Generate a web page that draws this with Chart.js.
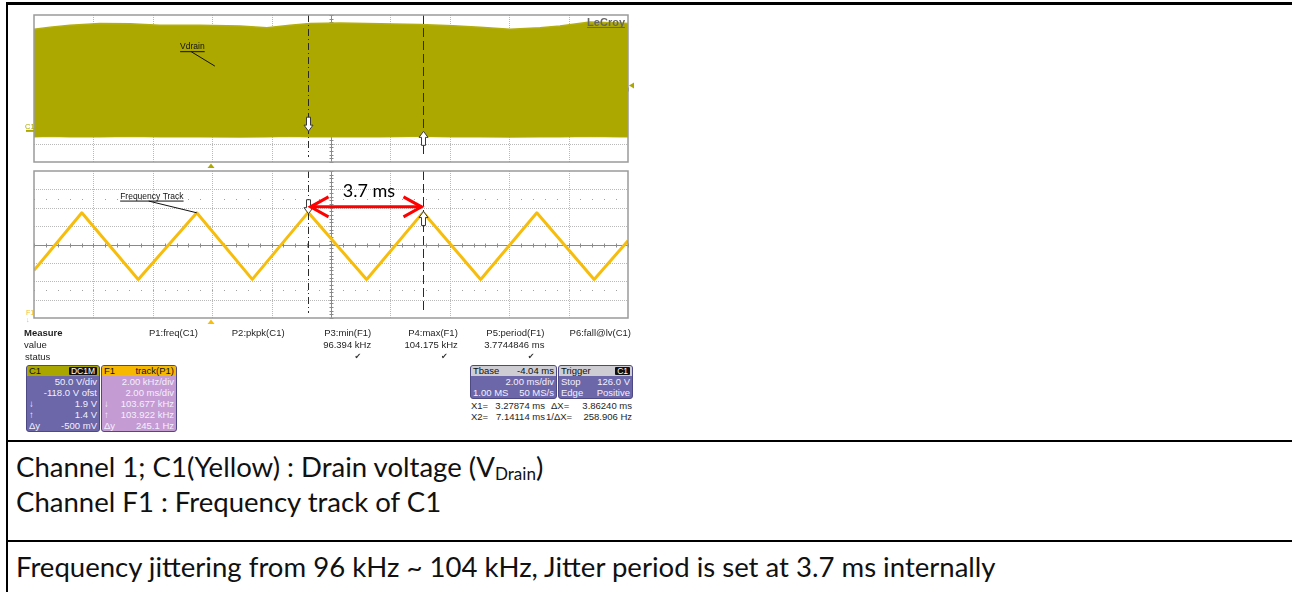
<!DOCTYPE html>
<html>
<head>
<meta charset="utf-8">
<script src="https://cdn.jsdelivr.net/npm/chart.js@4.4.0/dist/chart.umd.min.js"></script>
<style>
  body { margin: 0; background: #fff; }
  #page { position: relative; width: 1292px; height: 592px; overflow: hidden; font-family: "Liberation Sans", Arial, sans-serif; }
  .rule { position: absolute; left: 6px; right: 0; background: #000; }
  .sc { position: absolute; font-size: 9.5px; line-height: 11px; color: #1e1e1e; white-space: nowrap; }
  .box { position: absolute; border: 1px solid #4d4985; border-radius: 3px; overflow: hidden; font-size: 9.5px; color: #f3f0ff; }
  .hd, .rw { display: flex; justify-content: space-between; padding: 0 2px; white-space: nowrap; }
  .hd { height: 10px; line-height: 10px; color: #111; }
  .rw { height: 11px; line-height: 11px; }
  .badge { background: #111; color: #fff; padding: 0 2px; height: 8px; line-height: 8px; margin-top: 1px; border-radius: 1px; font-size: 8.5px; }
  .txt { position: absolute; left: 16px; color: #111; white-space: nowrap; line-height: 30px; font-family: Lato, "Noto Sans", sans-serif; }
  .txt sub { font-size: 62%; vertical-align: -0.15em; }
  canvas { position: absolute; }
</style>
</head>
<body>
<div id="page">
  <div class="rule" style="top:2px;height:3px"></div>
  <div class="rule" style="top:2px;bottom:0;width:2px;right:auto"></div>
  <div class="rule" style="top:440px;height:2px"></div>
  <div class="rule" style="top:540px;height:2px"></div>

  <canvas id="c1" width="628" height="163" style="left:16px;top:8px"></canvas>
  <canvas id="f1" width="628" height="163" style="left:16px;top:165px"></canvas>

  <div id="measure"></div>

  <div class="box" style="left:26px;top:365px;width:72px;background:#6b67a9">
    <div class="hd" style="background:#aaa600"><span>C1</span><span class="badge">DC1M</span></div>
    <div class="rw"><span></span><span>50.0 V/div</span></div>
    <div class="rw"><span></span><span>-118.0 V ofst</span></div>
    <div class="rw"><span>&darr;</span><span>1.9 V</span></div>
    <div class="rw"><span>&uarr;</span><span>1.4 V</span></div>
    <div class="rw"><span>&Delta;y</span><span>-500 mV</span></div>
  </div>
  <div class="box" style="left:101px;top:365px;width:74px;background:#c59bd3">
    <div class="hd" style="background:#f6b800"><span>F1</span><span>track(P1)</span></div>
    <div class="rw"><span></span><span>2.00 kHz/div</span></div>
    <div class="rw"><span></span><span>2.00 ms/div</span></div>
    <div class="rw"><span>&darr;</span><span>103.677 kHz</span></div>
    <div class="rw"><span>&uarr;</span><span>103.922 kHz</span></div>
    <div class="rw"><span>&Delta;y</span><span>245.1 Hz</span></div>
  </div>
  <div class="box" style="left:470px;top:365px;width:85px;background:#6b67a9">
    <div class="hd" style="background:#cdcdd3"><span>Tbase</span><span>-4.04 ms</span></div>
    <div class="rw"><span></span><span>2.00 ms/div</span></div>
    <div class="rw"><span>1.00 MS</span><span>50 MS/s</span></div>
  </div>
  <div class="box" style="left:558px;top:365px;width:73px;background:#6b67a9">
    <div class="hd" style="background:#cdcdd3"><span>Trigger</span><span class="badge">C1</span></div>
    <div class="rw"><span>Stop</span><span>126.0 V</span></div>
    <div class="rw"><span>Edge</span><span>Positive</span></div>
  </div>
  <div class="sc" style="left:471px;top:400px">X1=</div>
  <div class="sc" style="left:445px;top:400px;width:100px;text-align:right">3.27874 ms</div>
  <div class="sc" style="left:551px;top:400px">&Delta;X=</div>
  <div class="sc" style="left:532px;top:400px;width:100px;text-align:right">3.86240 ms</div>
  <div class="sc" style="left:471px;top:411px">X2=</div>
  <div class="sc" style="left:445px;top:411px;width:100px;text-align:right">7.14114 ms</div>
  <div class="sc" style="left:546px;top:411px">1/&Delta;X=</div>
  <div class="sc" style="left:532px;top:411px;width:100px;text-align:right">258.906 Hz</div>

  <div class="txt" id="t1" style="top:452px">Channel 1; C1(Yellow) : Drain voltage (V<sub>Drain</sub>)</div>
  <div class="txt" id="t2" style="top:487px">Channel F1 : Frequency track of C1</div>
  <div class="txt" id="t3" style="top:552px">Frequency jittering from 96 kHz ~ 104 kHz, Jitter period is set at 3.7 ms internally</div>
</div>

<script>
  // time axis in ms: 2 ms/div, 10 div, Tbase -4.04 ms
  var timeMin = -5.96, timeMax = 14.04, msPerDiv = 2;

  // C1 drain voltage envelope (V), 50 V/div, offset -118 V
  var c1Min = -82, c1Max = 318, voltPerDiv = 50, c1Center = 118;
  var envTimes   = [-5.96, -5.42, -4.75, -3.74, -2.73, -1.72, -0.37, 0.98, 1.88, 2.66, 3.33, 4.34, 5.69, 7.04, 8.15, 9.06, 10.07, 11.08, 11.75, 12.76, 13.77, 14.04];
  var envTopV    = [279, 285, 290, 295, 294, 290, 290, 288, 283, 290, 295, 296, 294, 292, 289, 285, 279, 283, 288, 299, 296, 295];
  var envBottomV = [-13, -12, -13, -13, -12, -13, -13, -14, -13, -12, -13, -13, -13, -12, -13, -13, -14, -13, -13, -12, -13, -13];
  var triggerLevelV = 126;

  // F1 frequency track (kHz), 2 kHz/div
  var f1Min = 92, f1Max = 108, kHzPerDiv = 2, f1Center = 100;
  var trackTimes = [-5.96, -4.35, -2.45, -0.48, 1.39, 3.27, 5.24, 7.14, 9.08, 10.97, 12.90, 14.04];
  var trackKHz   = [97.2, 103.45, 96.2, 103.45, 96.2, 103.5, 96.2, 103.5, 96.2, 103.45, 96.2, 100.4];

  // cursors
  var cursorMs = [3.27874, 7.14114];
  var cursorC1 = [1.9, 1.4];
  var cursorF1 = [103.677, 103.922];

  // measurement row
  var measureNames  = ['P1:freq(C1)', 'P2:pkpk(C1)', 'P3:min(F1)', 'P4:max(F1)', 'P5:period(F1)', 'P6:fall@lv(C1)'];
  var measureValues = ['', '', '96.394 kHz', '104.175 kHz', '3.7744846 ms', ''];
  var measureOk     = [false, false, true, true, true, false];

  var FONT = '"Liberation Sans", Arial, sans-serif';

  // measurement table as html
  var m = document.getElementById('measure');
  var html = '<div class="sc" style="left:24px;top:327px;font-weight:bold">Measure</div>' +
             '<div class="sc" style="left:24px;top:339px">value</div>' +
             '<div class="sc" style="left:25px;top:351px">status</div>';
  for (var i = 0; i < measureNames.length; i++) {
    var r = 198 + i * 86.6;
    html += '<div class="sc" style="left:' + (r - 100) + 'px;top:327px;width:100px;text-align:right">' + measureNames[i] + '</div>';
    if (measureValues[i]) html += '<div class="sc" style="left:' + (r - 100) + 'px;top:339px;width:100px;text-align:right">' + measureValues[i] + '</div>';
    if (measureOk[i]) html += '<div class="sc" style="left:' + (r - 110) + 'px;top:351px;width:100px;text-align:right;font-family:DejaVu Sans;font-size:8px;color:#333">&#10004;</div>';
  }
  m.innerHTML = html;

  // fit the caption font to the width of the last line
  (function () {
    var c = document.createElement('canvas').getContext('2d');
    c.font = '100px Lato';
    var w = c.measureText(document.getElementById('t3').textContent).width;
    var size = 100 * 982 / w;
    ['t1', 't2', 't3'].forEach(function (id) { document.getElementById(id).style.fontSize = size + 'px'; });
  })();

  function line(ctx, x1, y1, x2, y2) { ctx.beginPath(); ctx.moveTo(x1, y1); ctx.lineTo(x2, y2); ctx.stroke(); }

  function drawGrid(chart, yStep, yCenter, dotRows) {
    var ctx = chart.ctx, a = chart.chartArea, x = chart.scales.x, y = chart.scales.y;
    ctx.save();
    ctx.lineWidth = 1;
    ctx.strokeStyle = '#b9b9b9';
    ctx.setLineDash([1, 1]);
    for (var v = x.min + msPerDiv; v < x.max - 0.01; v += msPerDiv) {
      var px = Math.round(x.getPixelForValue(v)) + 0.5;
      line(ctx, px, a.top, px, a.bottom);
    }
    for (var w = y.min + yStep; w < y.max - 0.01; w += yStep) {
      var py = Math.round(y.getPixelForValue(w)) + 0.5;
      line(ctx, a.left, py, a.right, py);
    }
    ctx.setLineDash([]);
    ctx.strokeStyle = '#8a8a8a';
    var cy = Math.round(y.getPixelForValue(yCenter)) + 0.5;
    var cx = Math.round(x.getPixelForValue((x.min + x.max) / 2)) + 0.5;
    line(ctx, a.left, cy, a.right, cy);
    line(ctx, cx, a.top, cx, a.bottom);
    for (var t = x.min; t <= x.max + 0.01; t += msPerDiv / 5) {
      var tx = Math.round(x.getPixelForValue(t)) + 0.5;
      line(ctx, tx, cy - 2, tx, cy + 2);
    }
    for (var k = y.min; k <= y.max + 0.01; k += yStep / 5) {
      var ky = Math.round(y.getPixelForValue(k)) + 0.5;
      line(ctx, cx - 2, ky, cx + 2, ky);
    }
    ctx.fillStyle = '#a0a0a0';
    dotRows.forEach(function (rv) {
      var ry = Math.round(y.getPixelForValue(rv));
      for (var t = x.min; t <= x.max; t += msPerDiv / 5) ctx.fillRect(Math.round(x.getPixelForValue(t)), ry, 1, 1);
    });
    ctx.restore();
  }

  function drawFrame(chart) {
    var ctx = chart.ctx, a = chart.chartArea;
    ctx.save();
    ctx.strokeStyle = '#9a9a9a';
    ctx.lineWidth = 1.5;
    ctx.strokeRect(a.left, a.top, a.right - a.left, a.bottom - a.top);
    ctx.restore();
  }

  function drawCursors(chart) {
    var ctx = chart.ctx, a = chart.chartArea, x = chart.scales.x;
    ctx.save();
    ctx.strokeStyle = '#2a2a2a';
    ctx.lineWidth = 1;
    var x1 = Math.round(x.getPixelForValue(cursorMs[0])) + 0.5;
    var x2 = Math.round(x.getPixelForValue(cursorMs[1])) + 0.5;
    ctx.setLineDash([7, 3, 1, 3]);
    line(ctx, x1, a.top, x1, a.bottom - 5);
    ctx.setLineDash([9, 4]);
    line(ctx, x2, a.top, x2, a.bottom - 5);
    ctx.restore();
  }

  function hollowArrow(ctx, x, tipY, down) {
    var s = down ? -1 : 1, L = 14, hh = 6, hw = 4.5, sw = 2;
    ctx.save();
    ctx.beginPath();
    ctx.moveTo(x, tipY);
    ctx.lineTo(x + hw, tipY + s * hh);
    ctx.lineTo(x + sw, tipY + s * hh);
    ctx.lineTo(x + sw, tipY + s * L);
    ctx.lineTo(x - sw, tipY + s * L);
    ctx.lineTo(x - sw, tipY + s * hh);
    ctx.lineTo(x - hw, tipY + s * hh);
    ctx.closePath();
    ctx.fillStyle = '#fff';
    ctx.fill();
    ctx.strokeStyle = '#3a3a3a';
    ctx.lineWidth = 1;
    ctx.stroke();
    ctx.restore();
  }

  function tri(ctx, color, pts) {
    ctx.save();
    ctx.fillStyle = color;
    ctx.beginPath();
    ctx.moveTo(pts[0], pts[1]); ctx.lineTo(pts[2], pts[3]); ctx.lineTo(pts[4], pts[5]);
    ctx.closePath(); ctx.fill();
    ctx.restore();
  }

  function label(ctx, text, lx, ly, tx, ty) {
    ctx.save();
    ctx.font = '8.5px ' + FONT;
    ctx.fillStyle = '#111';
    ctx.textBaseline = 'alphabetic';
    ctx.fillText(text, lx, ly);
    var w = ctx.measureText(text).width;
    ctx.strokeStyle = '#111';
    ctx.lineWidth = 1;
    line(ctx, lx, ly + 2.5, lx + w, ly + 2.5);
    line(ctx, lx + w * 0.45, ly + 2.5, tx, ty);
    ctx.restore();
  }

  var olive = '#aca800';
  var gold = '#f7bd0c';

  // top panel: C1 drain voltage
  new Chart(document.getElementById('c1'), {
    type: 'line',
    data: {
      datasets: [
        { data: envTimes.map(function (t, i) { return { x: t, y: envTopV[i] }; }), borderColor: '#b4af10', backgroundColor: olive, borderWidth: 1.5, pointRadius: 0, fill: '+1' },
        { data: envTimes.map(function (t, i) { return { x: t, y: envBottomV[i] }; }), borderColor: '#b4af10', borderWidth: 1.5, pointRadius: 0, fill: false }
      ]
    },
    options: {
      responsive: false, animation: false,
      layout: { padding: { left: 18, right: 16, top: 7, bottom: 9 } },
      plugins: { legend: { display: false }, tooltip: { enabled: false } },
      scales: {
        x: { type: 'linear', min: timeMin, max: timeMax, display: false },
        y: { min: c1Min, max: c1Max, display: false }
      }
    },
    plugins: [{
      id: 'scopeC1',
      beforeDatasetsDraw: function (chart) { drawGrid(chart, voltPerDiv, c1Center, []); },
      afterDatasetsDraw: function (chart) {
        var ctx = chart.ctx, a = chart.chartArea, x = chart.scales.x, y = chart.scales.y;
        drawCursors(chart);
        hollowArrow(ctx, Math.round(x.getPixelForValue(cursorMs[0])) + 0.5, y.getPixelForValue(cursorC1[0]), true);
        hollowArrow(ctx, Math.round(x.getPixelForValue(cursorMs[1])) + 0.5, y.getPixelForValue(cursorC1[1]), false);
        label(ctx, 'Vdrain', x.getPixelForValue(-1.04), y.getPixelForValue(225), x.getPixelForValue(0.13), y.getPixelForValue(179));
        // LeCroy mark
        ctx.save();
        ctx.font = 'bold 11px ' + FONT;
        ctx.fillStyle = '#666';
        ctx.textAlign = 'right';
        ctx.fillText('LeCroy', a.right - 3, a.top + 11);
        ctx.strokeStyle = '#666';
        line(ctx, a.right - 3 - ctx.measureText('LeCroy').width, a.top + 12.5, a.right - 3, a.top + 12.5);
        ctx.restore();
        drawFrame(chart);
        // ground marker + label
        var gy = y.getPixelForValue(0);
        ctx.save();
        ctx.strokeStyle = olive; ctx.lineWidth = 2;
        line(ctx, a.left - 8, gy - 1, a.left, gy - 1);
        ctx.fillStyle = olive; ctx.font = '7.5px ' + FONT;
        ctx.fillText('C1', a.left - 9, gy - 3);
        ctx.restore();
        // trigger position and level markers
        var tx = x.getPixelForValue(0);
        tri(ctx, olive, [tx, a.bottom + 1.5, tx - 3.5, a.bottom + 6, tx + 3.5, a.bottom + 6]);
        var ty = y.getPixelForValue(triggerLevelV);
        tri(ctx, olive, [a.right + 1, ty, a.right + 6, ty - 3, a.right + 6, ty + 3]);
      }
    }]
  });

  // bottom panel: F1 frequency track
  new Chart(document.getElementById('f1'), {
    type: 'line',
    data: {
      datasets: [
        { data: trackTimes.map(function (t, i) { return { x: t, y: trackKHz[i] }; }), borderColor: gold, borderWidth: 3, pointRadius: 0, fill: false, borderJoinStyle: 'round' }
      ]
    },
    options: {
      responsive: false, animation: false,
      layout: { padding: { left: 18, right: 16, top: 6, bottom: 10 } },
      plugins: { legend: { display: false }, tooltip: { enabled: false } },
      scales: {
        x: { type: 'linear', min: timeMin, max: timeMax, display: false },
        y: { min: f1Min, max: f1Max, display: false }
      }
    },
    plugins: [{
      id: 'scopeF1',
      beforeDatasetsDraw: function (chart) { drawGrid(chart, kHzPerDiv, f1Center, [f1Center + 2.5 * kHzPerDiv, f1Center - 2.5 * kHzPerDiv]); },
      afterDatasetsDraw: function (chart) {
        var ctx = chart.ctx, a = chart.chartArea, x = chart.scales.x, y = chart.scales.y;
        drawCursors(chart);
        var x1 = Math.round(x.getPixelForValue(cursorMs[0])) + 0.5;
        var x2 = Math.round(x.getPixelForValue(cursorMs[1])) + 0.5;
        hollowArrow(ctx, x1, y.getPixelForValue(cursorF1[0]) + 3, true);
        hollowArrow(ctx, x2, y.getPixelForValue(cursorF1[1]) + 3, false);
        label(ctx, 'Frequency Track', x.getPixelForValue(-3.06), y.getPixelForValue(105.0), x.getPixelForValue(-0.48), y.getPixelForValue(103.45));
        // period arrow
        var ay = y.getPixelForValue(104.1);
        ctx.save();
        ctx.strokeStyle = '#ff0000';
        ctx.lineWidth = 3;
        line(ctx, x1 + 2, ay, x2 - 2, ay);
        ctx.beginPath();
        ctx.moveTo(x1 + 20, ay - 10); ctx.lineTo(x1 + 2, ay); ctx.lineTo(x1 + 20, ay + 10);
        ctx.moveTo(x2 - 20, ay - 10); ctx.lineTo(x2 - 2, ay); ctx.lineTo(x2 - 20, ay + 10);
        ctx.stroke();
        ctx.font = '18px Lato';
        ctx.fillStyle = '#000';
        ctx.textAlign = 'center';
        ctx.fillText('3.7 ms', (x1 + x2) / 2 + 3, ay - 9.5);
        ctx.restore();
        drawFrame(chart);
        // F1 marker + trigger position
        ctx.save();
        ctx.fillStyle = gold;
        ctx.font = '7px ' + FONT;
        ctx.fillText('F1', a.left - 8, a.bottom - 3);
        ctx.fillText('\u2193', a.left - 8, a.bottom + 4);
        ctx.restore();
        var tx = x.getPixelForValue(0);
        tri(ctx, gold, [tx, a.bottom + 1.5, tx - 3.5, a.bottom + 6, tx + 3.5, a.bottom + 6]);
      }
    }]
  });
</script>
</body>
</html>
